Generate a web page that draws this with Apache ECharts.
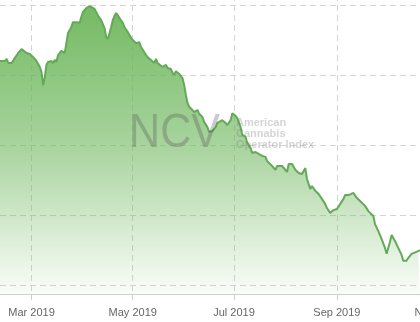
<!DOCTYPE html>
<html>
<head>
<meta charset="utf-8">
<script src="https://cdn.jsdelivr.net/npm/echarts@6/dist/echarts.min.js"></script>
<style>
  html, body { margin: 0; padding: 0; background: #ffffff; }
  #chart { width: 420px; height: 322px; }
</style>
</head>
<body>
<div id="chart"></div>
<script>
const dates = [
  '2019-02-10','2019-02-13','2019-02-14','2019-02-15','2019-02-17','2019-02-19','2019-02-21','2019-02-23','2019-02-24','2019-02-26',
  '2019-02-28','2019-03-02','2019-03-04','2019-03-06','2019-03-07','2019-03-08','2019-03-09','2019-03-10','2019-03-11','2019-03-12',
  '2019-03-13','2019-03-14','2019-03-15','2019-03-16','2019-03-17','2019-03-19','2019-03-20','2019-03-21','2019-03-22','2019-03-23',
  '2019-03-25','2019-03-26','2019-03-27','2019-03-28','2019-03-30','2019-03-31','2019-04-01','2019-04-02','2019-04-03','2019-04-05',
  '2019-04-06','2019-04-08','2019-04-09','2019-04-10','2019-04-11','2019-04-12','2019-04-14','2019-04-15','2019-04-16','2019-04-17',
  '2019-04-18','2019-04-19','2019-04-20','2019-04-21','2019-04-22','2019-04-23','2019-04-25','2019-04-26','2019-04-28','2019-04-29',
  '2019-04-30','2019-05-01','2019-05-02','2019-05-03','2019-05-04','2019-05-05','2019-05-06','2019-05-07','2019-05-09','2019-05-10',
  '2019-05-11','2019-05-12','2019-05-13','2019-05-14','2019-05-15','2019-05-16','2019-05-17','2019-05-19','2019-05-20','2019-05-21',
  '2019-05-22','2019-05-23','2019-05-24','2019-05-25','2019-05-26','2019-05-27','2019-05-28','2019-05-29','2019-05-31','2019-06-01',
  '2019-06-02','2019-06-03','2019-06-04','2019-06-05','2019-06-06','2019-06-07','2019-06-09','2019-06-10','2019-06-12','2019-06-13',
  '2019-06-15','2019-06-16','2019-06-18','2019-06-20','2019-06-21','2019-06-22','2019-06-24','2019-06-26','2019-06-27','2019-06-29',
  '2019-06-30','2019-07-02','2019-07-03','2019-07-05','2019-07-06','2019-07-08','2019-07-09','2019-07-11','2019-07-12','2019-07-14',
  '2019-07-15','2019-07-18','2019-07-20','2019-07-21','2019-07-24','2019-07-26','2019-07-27','2019-07-30','2019-07-31','2019-08-02',
  '2019-08-03','2019-08-05','2019-08-07','2019-08-09','2019-08-11','2019-08-13','2019-08-14','2019-08-16','2019-08-17','2019-08-19',
  '2019-08-21','2019-08-23','2019-08-25','2019-08-26','2019-08-28','2019-08-30','2019-09-01','2019-09-03','2019-09-05','2019-09-06',
  '2019-09-08','2019-09-09','2019-09-11','2019-09-13','2019-09-15','2019-09-18','2019-09-20','2019-09-23','2019-09-24','2019-09-26',
  '2019-09-28','2019-09-30','2019-10-01','2019-10-03','2019-10-04','2019-10-06','2019-10-08','2019-10-10','2019-10-11','2019-10-13',
  '2019-10-14','2019-10-16','2019-10-17','2019-10-20','2019-10-21'
];
const values = [
  84.0, 84.0, 84.6, 83.4, 83.4, 84.9, 86.3, 87.4, 87.1, 86.3,
  86.0, 85.1, 84.0, 82.3, 80.9, 77.1, 79.4, 82.9, 83.7, 83.4,
  84.0, 83.4, 84.3, 83.7, 85.7, 86.9, 87.1, 86.3, 89.1, 92.0,
  93.7, 95.1, 95.4, 95.1, 94.9, 96.6, 98.0, 97.7, 99.1, 99.7,
  99.4, 98.9, 98.6, 97.1, 96.3, 95.7, 93.4, 90.9, 90.3, 92.0,
  93.7, 95.7, 96.9, 97.7, 97.1, 96.3, 94.9, 93.7, 92.3, 92.0,
  90.6, 90.0, 90.3, 89.1, 89.1, 89.4, 88.0, 87.7, 85.7, 85.1,
  84.9, 84.3, 84.0, 83.4, 84.6, 83.4, 82.9, 82.3, 82.6, 82.9,
  82.0, 81.7, 81.7, 80.6, 80.0, 81.1, 80.9, 80.3, 79.1, 77.1,
  74.3, 72.0, 70.9, 70.6, 70.0, 69.4, 70.0, 68.9, 68.0, 66.6,
  65.1, 63.7, 64.0, 65.1, 66.3, 66.6, 67.1, 66.3, 65.7, 67.1,
  69.1, 68.3, 67.7, 65.1, 62.9, 62.3, 60.6, 59.1, 57.7, 58.0,
  57.7, 56.9, 56.6, 55.4, 54.0, 52.9, 54.0, 54.0, 53.7, 52.3,
  54.6, 54.6, 52.9, 52.0, 51.7, 53.4, 50.3, 47.4, 48.3, 46.9,
  46.0, 44.6, 43.1, 42.0, 40.6, 41.4, 41.7, 43.1, 44.6, 45.7,
  45.7, 46.0, 46.3, 44.9, 44.0, 42.6, 41.1, 39.7, 37.4, 35.4,
  33.1, 30.6, 28.9, 32.3, 34.3, 32.6, 30.6, 28.6, 26.9, 26.9,
  27.7, 28.9, 29.1, 29.7, 30.0
];
const tickDates = ['2019-03-01', '2019-05-01', '2019-07-01', '2019-09-01', '2019-11-01'];
const tickLabels = ['Mar 2019', 'May 2019', 'Jul 2019', 'Sep 2019', 'Nov 2019'];
const gridValues = [20, 40, 60, 80, 100, 120];
const xMinDate = '2019-02-10';
const xMaxDate = '2019-11-10';

function ts(d) { return new Date(d + 'T00:00:00').getTime(); }

const chart = echarts.init(document.getElementById('chart'), null, { renderer: 'canvas' });
const seriesData = dates.map((d, i) => [ts(d), values[i]]);
const tickTs = tickDates.map(ts);
const gridColor = '#d4d4d4';

chart.setOption({
  animation: false,
  backgroundColor: '#ffffff',
  grid: { left: 0, right: -33, top: -65, bottom: 28, containLabel: false, outerBoundsMode: 'none' },
  xAxis: {
    type: 'value',
    min: ts(xMinDate),
    max: ts(xMaxDate),
    axisLine: { show: true, lineStyle: { color: '#cfcfcf', width: 1 } },
    axisTick: { show: true, length: 6, customValues: tickTs, lineStyle: { color: '#cfcfcf' } },
    axisLabel: {
      show: true,
      customValues: tickTs,
      color: '#666666',
      fontSize: 11,
      fontFamily: 'Liberation Sans, Arial, sans-serif',
      margin: 13,
      hideOverlap: false,
      formatter: function (val) {
        const i = tickTs.findIndex(t => Math.abs(t - val) < 3600000);
        return i >= 0 ? tickLabels[i] : '';
      }
    },
    splitLine: { show: true, customValues: tickTs, lineStyle: { color: gridColor, type: [6, 4], width: 1 } }
  },
  yAxis: {
    type: 'value',
    min: 17.4286,
    max: 120,
    axisLine: { show: false },
    axisTick: { show: false, customValues: gridValues },
    axisLabel: { show: false, customValues: gridValues },
    splitLine: { show: true, customValues: gridValues, lineStyle: { color: gridColor, type: [6, 4], width: 1 } }
  },
  graphic: [
    {
      type: 'text',
      x: 129,
      y: 133,
      scaleX: 0.88,
      z: 100,
      silent: true,
      style: {
        text: 'NCV',
        font: '49px "Liberation Sans", Arial, sans-serif',
        fill: 'rgba(80,80,80,0.30)',
        verticalAlign: 'middle',
        align: 'left'
      }
    },
    {
      type: 'text',
      x: 236,
      y: 134,
      z: 100,
      silent: true,
      style: {
        text: 'American\nCannabis\nOperator Index',
        font: 'bold 11px "Liberation Sans", Arial, sans-serif',
        lineHeight: 11,
        fill: 'rgba(120,120,120,0.32)',
        verticalAlign: 'middle',
        align: 'left'
      }
    }
  ],
  series: [{
    type: 'line',
    data: seriesData,
    showSymbol: false,
    symbol: 'none',
    smooth: false,
    lineStyle: { color: '#64a957', width: 2 },
    areaStyle: {
      origin: 'start',
      opacity: 1,
      color: new echarts.graphic.LinearGradient(0, 0, 0, 1, [
        { offset: 0, color: 'rgba(108,182,90,0.95)' },
        { offset: 0.5, color: 'rgba(108,182,90,0.58)' },
        { offset: 1, color: 'rgba(108,182,90,0.03)' }
      ])
    }
  }]
});
</script>
</body>
</html>
